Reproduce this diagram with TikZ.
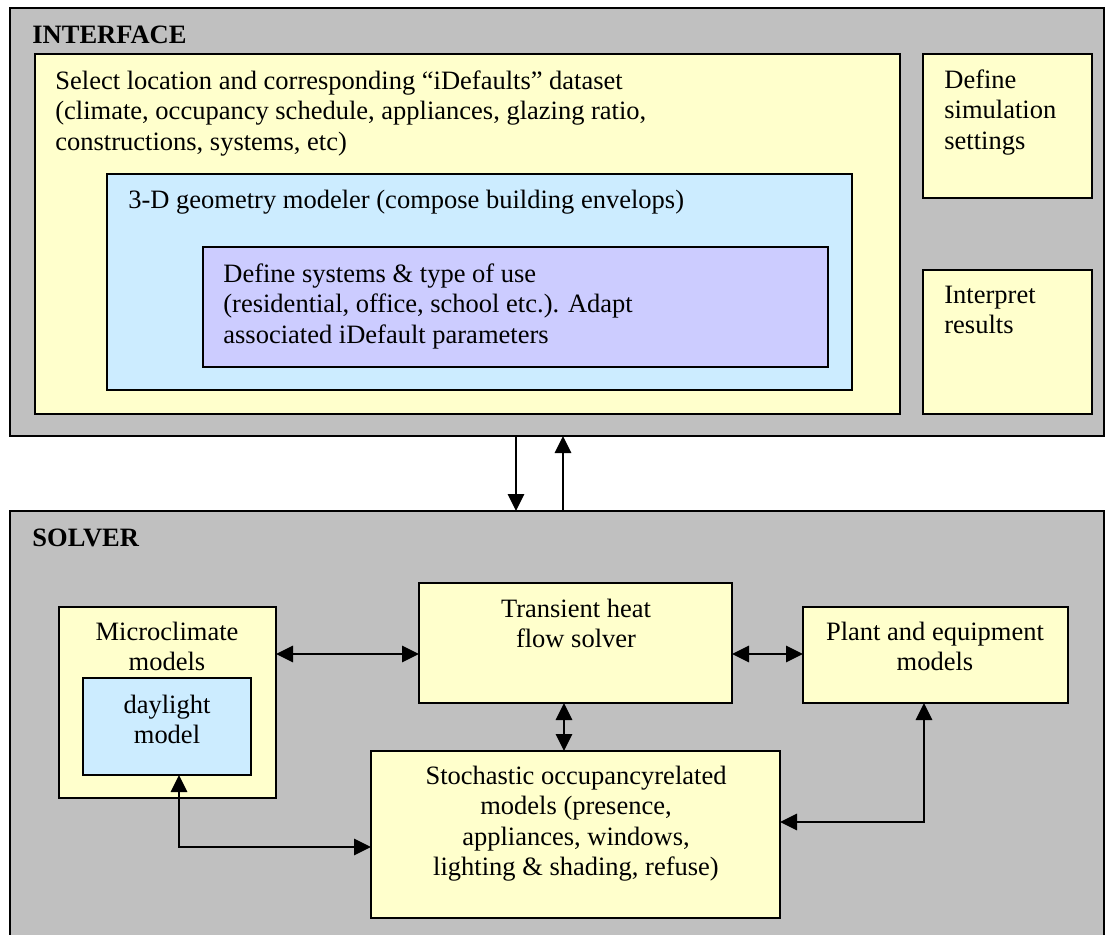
\documentclass[tikz,border=0pt]{standalone}
\usepackage{fontspec}
\setmainfont{Liberation Serif}
\usetikzlibrary{fit,arrows.meta}
\definecolor{panelgray}{HTML}{C0C0C0}
\definecolor{paleyellow}{HTML}{FFFFCC}
\definecolor{paleblue}{HTML}{CCECFF}
\definecolor{palepurple}{HTML}{CCCCFF}
\newcommand{\fstrut}{\rule{0pt}{11pt}}
\begin{document}
\begin{tikzpicture}[x=0.5pt,y=-0.5pt,
  box/.style={draw=black, line width=0.9pt, inner sep=0pt, outer sep=0pt},
  panel/.style={box, fill=panelgray},
  ybox/.style={box, fill=paleyellow},
  blbox/.style={box, fill=paleblue},
  pbox/.style={box, fill=palepurple},
  txt/.style={inner sep=0pt, font=\fontsize{13.25pt}{15.25pt}\selectfont},
  ltxt/.style={txt, align=left, anchor=north west},
  ctxt/.style={txt, align=center, anchor=north},
  hdr/.style={inner sep=0pt, font=\fontsize{13.25pt}{15.25pt}\selectfont\bfseries, anchor=base west},
  tip/.tip={Triangle[length=8.5pt,width=8pt]},
  link/.style={line width=1.4pt, -tip},
  dlink/.style={line width=1.4pt, tip-tip},
]
\useasboundingbox (0,0) rectangle (1105,934);
\clip (0,0) rectangle (1105,934);
\fill[white] (0,0) rectangle (1105,934);

% panels
\node[panel, fit={(10,8) (1104,436)}] (iface) {};
\node[panel, fit={(10,511) (1104,950)}] (solver) {};

% interface boxes
\node[ybox, fit={(35,54) (900,414)}] (sel) {};
\node[blbox, fit={(107,174) (852,390)}] (geo) {};
\node[pbox, fit={(203,247) (828,367)}] (sys) {};
\node[ybox, fit={(923,54) (1092,198)}] (sim) {};
\node[ybox, fit={(923,270) (1092,414)}] (interp) {};

% solver boxes
\node[ybox, fit={(59,607) (276,798)}] (micro) {};
\node[blbox, fit={(83,678) (251,775)}] (day) {};
\node[ybox, fit={(419,583) (732,703)}] (trans) {};
\node[ybox, fit={(803,607) (1068,703)}] (plant) {};
\node[ybox, fit={(371,751) (780,918)}] (stoch) {};

% texts
\node[hdr] (tiface) at (32,43) {INTERFACE};
\node[hdr] (tsolver) at (32,546) {SOLVER};
\node[ltxt] (tsel) at (55,67) {\fstrut Select location and corresponding “iDefaults” dataset\\(climate, occupancy schedule, appliances, glazing ratio,\\constructions, systems, etc)};
\node[ltxt] (tgeo) at (128,186) {\fstrut 3-D geometry modeler (compose building envelops)};
\node[ltxt] (tsys) at (223,260) {\fstrut Define systems \& type of use\\(residential, office, school etc.). Adapt\\associated iDefault parameters};
\node[ltxt] (tsim) at (944,66) {\fstrut Define\\simulation\\settings};
\node[ltxt] (tinterp) at (944,281) {\fstrut Interpret\\results};
\node[ctxt] (tmicro) at (167,618) {\fstrut Microclimate\\models};
\node[ctxt] (tday) at (167,691) {\fstrut daylight\\model};
\node[ctxt] (ttrans) at (576,595) {\fstrut Transient heat\\flow solver};
\node[ctxt] (tplant) at (935,618) {\fstrut Plant and equipment\\models};
\node[ctxt] (tstoch) at (576,762) {\fstrut Stochastic occupancyrelated\\models (presence,\\appliances, windows,\\lighting \& shading, refuse)};

% connectors
\coordinate (xdown) at (516,0);
\coordinate (xup) at (563,0);
\draw[link] (xdown |- iface.south) -- (xdown |- solver.north);
\draw[link] (xup |- solver.north) -- (xup |- iface.south);

\coordinate (ymid) at (0,654);
\draw[dlink] (micro.east |- ymid) -- (trans.west |- ymid);
\draw[dlink] (trans.east |- ymid) -- (plant.west |- ymid);
\coordinate (xts) at (564,0);
\draw[dlink] (xts |- trans.south) -- (xts |- stoch.north);
\coordinate (cday) at (179,847);
\draw[dlink] (cday |- day.south) -- (cday) -- (stoch.west |- cday);
\coordinate (cplant) at (924,822);
\draw[dlink] (cplant |- plant.south) -- (cplant) -- (stoch.east |- cplant);
\end{tikzpicture}
\end{document}
